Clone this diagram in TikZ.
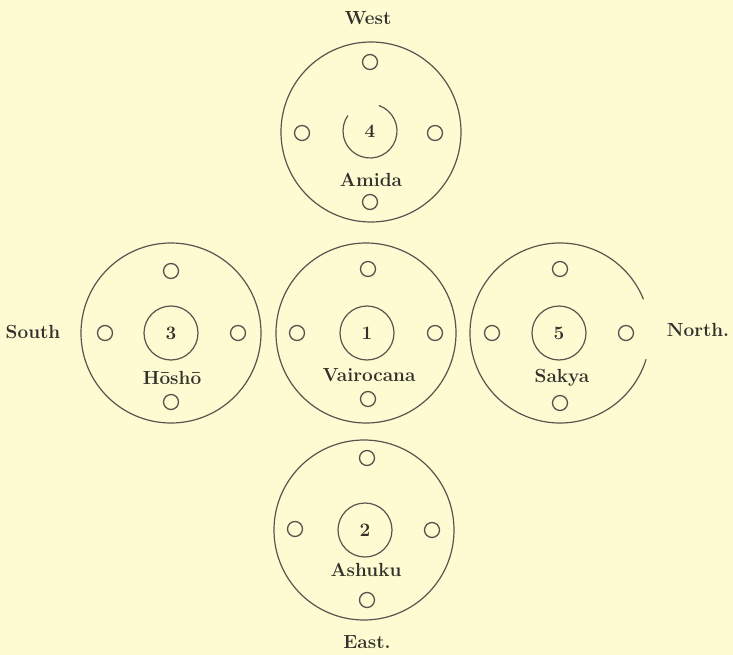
\documentclass[tikz,border=0pt]{standalone}
\usepackage{fontspec}
\setmainfont{Latin Modern Roman}
\definecolor{bg}{HTML}{FDFBD2}
\definecolor{ink}{HTML}{5A544E}
\definecolor{txt}{HTML}{35302B}
\newcommand\lblfont{\fontsize{19}{22}\selectfont\bfseries}
\newcommand\dirfont{\fontsize{19}{22}\selectfont\bfseries}
\tikzset{
  outerc/.style={circle,draw=ink,minimum size=180pt,inner sep=0pt},
  innerc/.style={circle,draw=ink,minimum size=54pt,inner sep=0pt,font=\lblfont,text=txt},
  smallc/.style={circle,draw=ink,minimum size=15pt,inner sep=0pt,line width=1.3pt},
  godlbl/.style={font=\lblfont,text=txt,inner sep=0pt},
  dirlbl/.style={font=\dirfont,text=txt,inner sep=0pt}
}
\begin{document}
\begin{tikzpicture}[x=1pt,y=-1pt,line width=1.2pt]
\fill[bg] (0,0) rectangle (733,655);
\useasboundingbox (0,0) rectangle (733,655);
% top: Amida (West)
\node[dirlbl] (west) at (368,18) {West};
\node[outerc] (o4) at (371,132) {};
\node[innerc,draw=none] (i4) at (370,131) {4};
\draw[ink] ([shift=(71:27pt)]i4.center) arc[start angle=71,end angle=-215,radius=27pt];
\node[smallc] (d4n) at (370,62) {};
\node[smallc] (d4w) at (302,133) {};
\node[smallc] (d4e) at (435,133) {};
\node[smallc] (d4s) at (370,202) {};
\node[godlbl] (amida) at (371,180) {Amida};
% middle: Vairocana
\node[outerc] (o1) at (366,333) {};
\node[innerc] (i1) at (367,333) {1};
\node[smallc] (d1n) at (368,269) {};
\node[smallc] (d1w) at (297,333) {};
\node[smallc] (d1e) at (435,333) {};
\node[smallc] (d1s) at (368,399) {};
\node[godlbl] (vairo) at (369,375) {Vairocana};
% left: Hosho (South)
\node[dirlbl] (south) at (33,332) {South};
\node[outerc] (o3) at (171,333) {};
\node[innerc] (i3) at (171,333) {3};
\node[smallc] (d3n) at (171,271) {};
\node[smallc] (d3w) at (105,333) {};
\node[smallc] (d3e) at (238,333) {};
\node[smallc] (d3s) at (171,402) {};
\node[godlbl] (hosho) at (172,378) {Hōshō};
% right: Sakya (North)
\node[outerc,draw=none] (o5) at (560,333) {};
\draw[ink] ([shift=(22:90pt)]o5.center) arc[start angle=22,end angle=343,radius=90pt];
\node[innerc] (i5) at (559,333) {5};
\node[smallc] (d5n) at (560,269) {};
\node[smallc] (d5w) at (492,333) {};
\node[smallc] (d5e) at (626,333) {};
\node[smallc] (d5s) at (560,403) {};
\node[godlbl] (sakya) at (562,378) {Sakya};
\node[dirlbl] (north) at (698,330) {North.};
% bottom: Ashuku (East)
\node[outerc] (o2) at (364,530) {};
\node[innerc] (i2) at (365,530) {2};
\node[smallc] (d2n) at (367,458) {};
\node[smallc] (d2w) at (295,529) {};
\node[smallc] (d2e) at (432,530) {};
\node[smallc] (d2s) at (367,600) {};
\node[godlbl] (ashuku) at (366,570) {Ashuku};
\node[dirlbl] (east) at (367,642) {East.};
\end{tikzpicture}
\end{document}
